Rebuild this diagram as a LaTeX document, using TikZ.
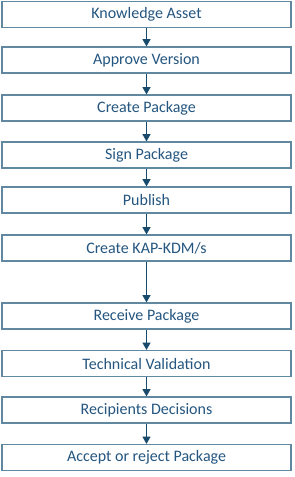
\documentclass[tikz,border=0pt]{standalone}
\usepackage{fontspec}
\setmainfont{Carlito}
\usepackage{tikz}
\usetikzlibrary{arrows.meta}
\definecolor{edge}{RGB}{96,136,160}
\definecolor{ink}{RGB}{36,86,128}
\definecolor{flow}{RGB}{24,74,108}

\tikzset{
  stepbox/.style={draw=edge,line width=0.8pt,fill=white,text=ink,
    minimum width=216.75pt,minimum height=19.5pt,inner sep=0pt,font=\fontsize{12}{14}\selectfont},
  flowarrow/.style={-{Triangle[width=6pt,length=5.5pt]},flow,line width=0.9pt}
}

\begin{document}
\begin{tikzpicture}[x=0.75pt,y=-0.75pt]
  \useasboundingbox (0,0) rectangle (294,477);

  % process steps, top to bottom
  \node[stepbox] (asset)    at (146.5,14.5)  {Knowledge Asset};
  \node[stepbox] (approve)  at (146.5,60)    {Approve Version};
  \node[stepbox] (create)   at (146.5,108)   {Create Package};
  \node[stepbox] (sign)     at (146.5,155)   {Sign Package};
  \node[stepbox] (publish)  at (146.5,200)   {Publish};
  \node[stepbox] (kdm)      at (146.5,248)   {Create KAP-KDM/s};
  \node[stepbox] (receive)  at (146.5,316)   {Receive Package};
  \node[stepbox] (validate) at (146.5,363.5) {Technical Validation};
  \node[stepbox] (decide)   at (146.5,410)   {Recipients Decisions};
  \node[stepbox] (accept)   at (146.5,457.5) {Accept or reject Package};

  % connectors
  \draw[flowarrow] (asset)    -- (approve);
  \draw[flowarrow] (approve)  -- (create);
  \draw[flowarrow] (create)   -- (sign);
  \draw[flowarrow] (sign)     -- (publish);
  \draw[flowarrow] (publish)  -- (kdm);
  \draw[flowarrow] (kdm)      -- (receive);
  \draw[flowarrow] (receive)  -- (validate);
  \draw[flowarrow] (validate) -- (decide);
  \draw[flowarrow] (decide)   -- (accept);
\end{tikzpicture}
\end{document}
